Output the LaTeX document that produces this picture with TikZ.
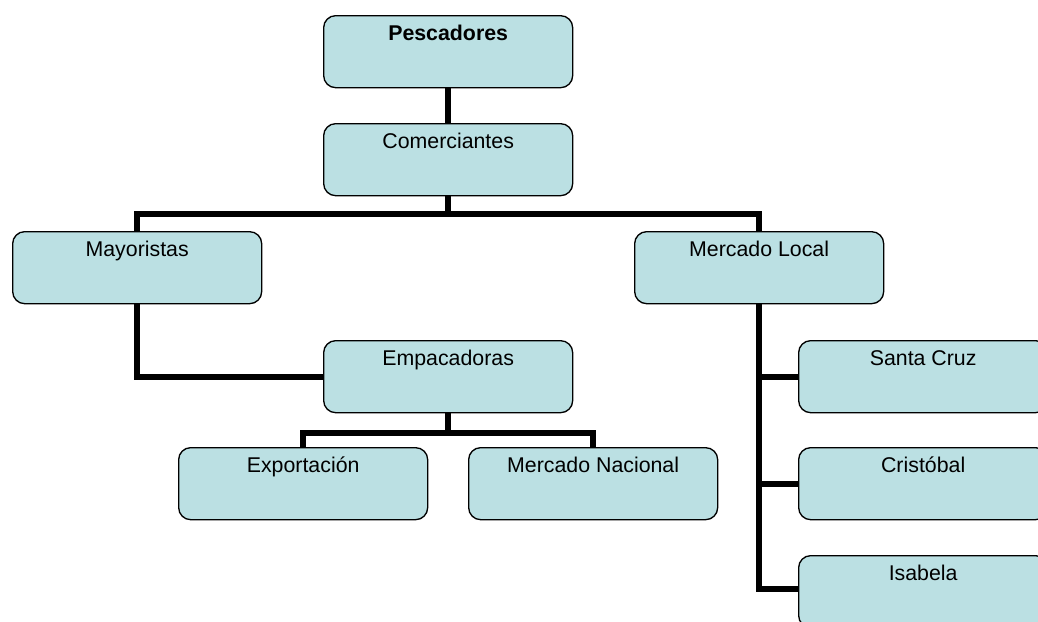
\documentclass[tikz,border=0pt]{standalone}
\usepackage{fontspec}
\setmainfont{Liberation Sans}
\usetikzlibrary{calc}

\definecolor{boxfill}{HTML}{BBE0E3}

\tikzset{
  orgbox/.style={draw=black, line width=1pt, fill=boxfill, rounded corners=9pt,
    anchor=north west, minimum width=186.75pt, inner xsep=0pt, inner ysep=0pt,
    text height=18.5pt, text depth=35.5pt, font=\fontsize{16}{19}\selectfont},
  link/.style={line width=4.5pt}
}

\begin{document}
\begin{tikzpicture}[x=0.75pt, y=-0.75pt]
  \useasboundingbox (0,0) rectangle (1038,621);

  % Draw the boxes
  \node[orgbox] (pes) at (323,15) {\textbf{Pescadores}};
  \node[orgbox] (com) at (323,123) {Comerciantes};
  \node[orgbox] (may) at (12,231) {Mayoristas};
  \node[orgbox] (loc) at (634,231) {Mercado Local};
  \node[orgbox] (emp) at (323,340) {Empacadoras};
  \node[orgbox] (exp) at (178,447) {Exportación};
  \node[orgbox] (nac) at (468,447) {Mercado Nacional};
  \node[orgbox] (scz) at (798,340) {Santa Cruz};
  \node[orgbox] (cri) at (798,447) {Cristóbal};
  \node[orgbox] (isa) at (798,555) {Isabela};

  % Bus points of the connectors
  \coordinate (bus) at ($(com.south)+(0,18)$);
  \coordinate (ebus) at ($(emp.south)+(0,20)$);

  % Draw the connectors
  \draw[link] (pes.south) -- (com.north);
  \draw[link] (com.south) -- (bus);
  \draw[link] (may.north) |- (bus) -| (loc.north);
  \draw[link] (may.south) |- (emp.west);
  \draw[link] (emp.south) -- (ebus);
  \draw[link] (exp.north) |- (ebus) -| (nac.north);
  \draw[link] (loc.south) |- ($(isa.west)+(0,-3)$) -- ($(isa.west)+(0,-3)$);
  \draw[link] (loc.south |- scz.west) -- (scz.west);
  \draw[link] (loc.south |- cri.west) -- (cri.west);

\end{tikzpicture}
\end{document}
